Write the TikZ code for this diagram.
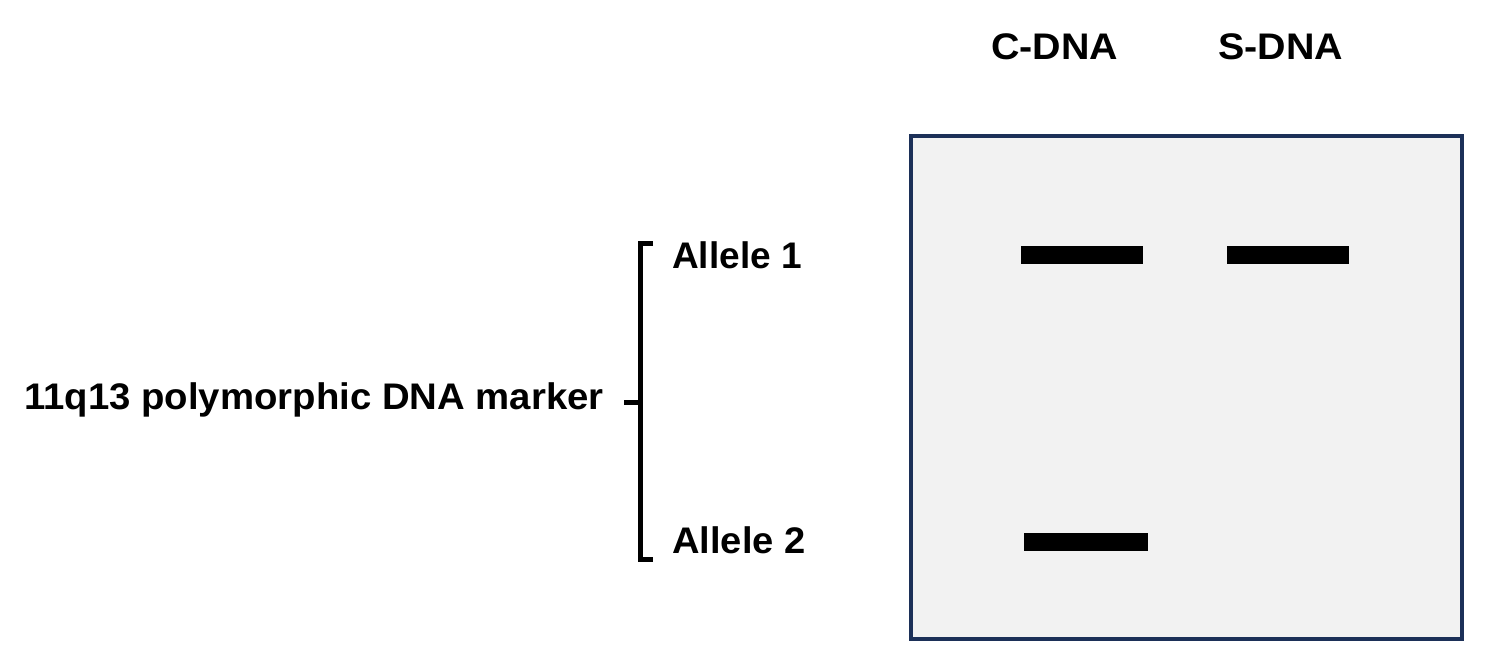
\documentclass[tikz,border=0pt]{standalone}
\usepackage{fontspec}
\setmainfont{Liberation Sans}
\begin{document}
\begin{tikzpicture}[x=1pt,y=-1pt,
  lbl/.style={font=\fontsize{37}{40}\selectfont\bfseries, inner sep=0pt, anchor=west},
  band/.style={fill=black, draw=none},
  brace/.style={line width=5pt, line cap=butt, line join=miter}]
\useasboundingbox (0,0) rectangle (1495,666);
% gel box
\node[draw={rgb,255:red,28;green,48;blue,88}, line width=4pt, fill={rgb,255:red,242;green,242;blue,242},
  minimum width=551pt, minimum height=503pt, inner sep=0pt, anchor=north west] (gel) at (909,134) {};
% lane labels
\node[lbl] (c) at (991,47) {\scalebox{1.065}[1]{C-DNA}};
\node[lbl] (s) at (1218,47) {\scalebox{1.065}[1]{S-DNA}};
% bands
\fill[band] (1021,246) rectangle (1143,264);
\fill[band] (1227,246) rectangle (1349,264);
\fill[band] (1024,533) rectangle (1148,551);
% allele labels
\node[lbl] (a1) at (672,255) {Allele 1};
\node[lbl] (a2) at (672,540) {\scalebox{1.03}[1]{Allele 2}};
\node[lbl] (m) at (24,400) {\scalebox{1.036}[1]{11q13 polymorphic DNA marker}};
% bracket
\coordinate (bt) at (653,243);
\coordinate (bb) at (653,559);
\coordinate (bm) at (624,402);
\draw[brace] (bt) -- (640,243) -- (640,559) -- (bb);
\draw[brace] (bm) -- (640,402);
\end{tikzpicture}
\end{document}
